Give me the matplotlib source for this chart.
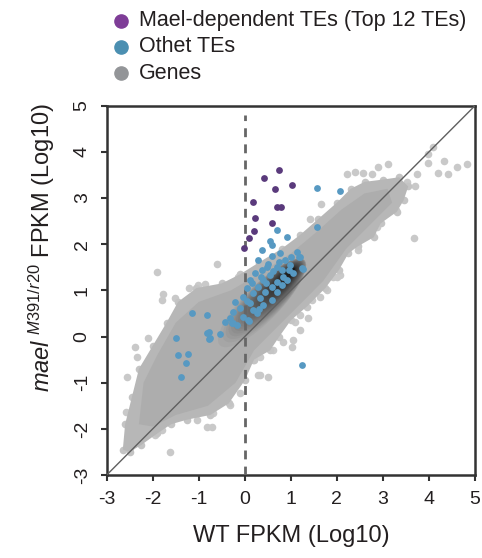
import matplotlib
matplotlib.use('Agg')
from matplotlib import pyplot as plt
from matplotlib.patches import Polygon, Ellipse
from matplotlib.lines import Line2D
import numpy as np

plt.rcParams['font.family'] = ['Liberation Sans', 'DejaVu Sans']
plt.rcParams['mathtext.fontset'] = 'custom'
plt.rcParams['mathtext.rm'] = 'Liberation Sans'
plt.rcParams['mathtext.it'] = 'Liberation Sans:italic'

# Data (log10 FPKM, WT vs mael)
maelX = [0.749, 0.423, 1.031, 0.649, 0.184, 0.705, 0.792, 0.221, 0.597, 0.199, 0.084, -0.011]
maelY = [3.607, 3.441, 3.289, 3.189, 2.914, 2.800, 2.800, 2.574, 2.459, 2.292, 2.141, 1.911]

otherX = [1.568, 2.067, 1.575, 0.691, 0.923, 0.546, 0.583, 0.365, 0.764, 1.126, 1.176, 0.293,
          0.583, 0.872, 0.981, 1.270, 0.474, 0.691, 0.800, 0.365, 0.221, 0.546, 0.836, 1.053,
          0.112, 0.402, 0.691, 0.908, 0.293, 0.583, 0.040, 0.184, 0.438, 0.691, -0.033, 0.329,
          0.583, -0.214, 0.112, 0.402, -0.105, 0.184, -0.250, -0.033, 0.257, -0.322, -0.431,
          -0.178, 0.076, -0.250, -0.829, -0.757, -0.539, 0.098, -1.147, -0.815, -1.495, -0.771,
          -0.785, -1.444, -1.241, -1.278, -1.393, -0.285, 1.249, 1.199, 1.236, 0.95, 0.75, 0.45,
          0.15, 0.35, 0.62, 0.80, 1.00, 0.05, 0.50, 0.30]
otherY = [3.211, 3.146, 2.379, 2.307, 2.163, 2.076, 1.983, 1.874, 1.802, 1.838, 1.730, 1.658,
          1.744, 1.658, 1.549, 1.455, 1.513, 1.513, 1.441, 1.441, 1.369, 1.333, 1.297, 1.369,
          1.224, 1.224, 1.188, 1.224, 1.080, 1.080, 1.044, 0.936, 0.972, 0.972, 0.863, 0.827,
          0.791, 0.755, 0.719, 0.683, 0.611, 0.575, 0.539, 0.430, 0.502, 0.394, 0.322,
          0.250, 0.358, 0.286, 0.069, -0.039, 0.048, 0.343, 0.503, 0.460, -0.026, 0.091,
          -0.060, -0.400, -0.379, -0.567, -0.870, 0.287, -0.611, 1.730, 1.478, 1.45, 1.62, 1.15,
          1.15, 1.30, 1.42, 1.12, 1.72, 0.78, 1.58, 0.60]

# Gene cloud: outline of the dense band
bandX = [-2.65, -2.6, -2.45, -2.3, -2.0, -1.7, -1.45, -1.05, -0.5, -0.1, 0.3, 0.8, 1.2, 1.6, 2.0,
         2.3, 2.6, 3.0, 3.35, 3.55, 3.45, 3.3, 2.95, 2.8, 2.45, 2.25, 2.05, 1.75, 1.35, 1.0, 0.75,
         0.55, 0.2, 0.0, -0.35, -0.75, -1.25, -1.6, -1.9, -2.25, -2.5]
bandY = [-2.45, -1.9, -1.3, -0.7, -0.2, 0.3, 0.75, 1.05, 1.15, 1.35, 1.6, 1.9, 2.2, 2.55, 2.9,
         3.2, 3.35, 3.4, 3.45, 3.25, 2.95, 2.7, 2.45, 2.15, 1.95, 1.8, 1.45, 1.05, 0.65, 0.35, 0.0,
         -0.3, -0.5, -0.95, -1.45, -1.7, -1.8, -1.9, -2.1, -2.35, -2.5]
innerX = [-2.3, -2.2, -1.9, -1.5, -1.0, -0.3, 0.3, 1.0, 1.6, 2.1, 2.6, 3.1, 3.2, 2.7, 2.2, 1.7,
          1.2, 0.6, 0.2, -0.2, -0.8, -1.5, -2.0]
innerY = [-1.9, -1.0, -0.4, 0.3, 0.75, 1.0, 1.35, 1.8, 2.3, 2.75, 3.1, 3.2, 2.9, 2.4, 1.9, 1.2,
          0.7, 0.1, -0.3, -1.0, -1.5, -1.7, -1.95]

# Gene outliers around the band
geneX = [4.095, 3.986, 4.327, 4.819, 4.602, 4.204, 4.421, 3.733, 3.986, 3.118, 2.900, 2.756,
         2.560, 2.394, 2.227, 3.516, 3.697, 1.648, 1.416, 3.284, 3.675, 2.864, 2.756, 2.502,
         2.466, 2.068, 1.923, 1.887, 2.068, 1.995, 1.777, 1.633, 1.452, 1.379, 1.198, 1.090,
         1.198, 1.053, 0.836, 1.017, 0.619, 0.329, 0.185, 0.329, 0.510, -0.033, -2.581, -2.386,
         -2.364, -1.951, -1.807, -1.626, -1.626, -2.494, -2.364, -0.720, -1.046, -0.684, -0.322,
         -0.105, -0.540, -1.915, -0.612, -1.770, -1.517, -1.807, -1.206, -1.010, -0.865, -0.902,
         -0.721, -1.191, -0.938, -0.141, -0.358, -2.567, -2.386, -2.349, -2.096, -2.494, 0.293,
         -0.829, -0.250]
geneY = [4.113, 3.954, 3.810, 3.730, 3.665, 3.535, 3.514, 3.521, 3.752, 3.730, 3.680, 3.521,
         3.550, 3.571, 3.514, 3.355, 3.261, 2.871, 2.539, 2.741, 2.142, 2.380, 2.235, 2.308,
         1.874, 1.333, 1.297, 2.705, 2.849, 1.296, 1.007, 0.863, 0.791, 0.394, 0.466, 0.321,
         0.141, -0.076, -0.112, -0.220, -0.292, -0.437, -0.509, -0.834, -0.870, -0.798, -1.642,
         -1.700, -1.989, -2.134, -2.025, -1.881, -2.495, -2.422, -2.278, -1.953, -1.808, -1.664,
         -1.484, -1.231, -1.375, 1.391, 1.571, 0.914, 0.828, 0.792, 1.044, 1.117, 1.138, 0.900,
         1.008, 0.792, 0.756, 1.297, 1.044, -0.870, -0.220, -0.437, -0.040, -2.242, -0.834,
         -1.953, 1.153]

# Darkest part of the cloud
CORE_CENTER = (1.05, 1.45)
CORE_TAIL = (0.35, 0.7)

TICKS = [-3, -2, -1, 0, 1, 2, 3, 4, 5]
legendLabels = ['Mael-dependent TEs (Top 12 TEs)', 'Othet TEs', 'Genes']
legendColors = ['#7e3d97', '#4b8fb1', '#939598']

TEXT = '#231f20'
W, H = 482, 558

fig = plt.figure(figsize = (W / 100, H / 100), dpi = 100)
ax = fig.add_axes([106.7 / W, 1 - 475 / H, 368.3 / W, 369.3 / H])

# gene cloud
ax.scatter(geneX, geneY, s = 30, color = '#c9c9c9', linewidths = 0, zorder = 1)
ax.scatter(bandX, bandY, s = 30, color = '#c4c4c4', linewidths = 0, zorder = 1)
band = Polygon(np.column_stack([bandX, bandY]), closed = True, facecolor = '#b7b7b7', edgecolor = 'none', zorder = 2)
ax.add_patch(band)
inner = Polygon(np.column_stack([innerX, innerY]), closed = True, facecolor = '#adadad', edgecolor = 'none', zorder = 2)
ax.add_patch(inner)
inner.set_clip_path(band)

nSteps = 45
for k in range(nSteps):
    f = k / (nSteps - 1)
    cx = CORE_TAIL[0] + (CORE_CENTER[0] - CORE_TAIL[0]) * f ** 0.6
    cy = CORE_TAIL[1] + (CORE_CENTER[1] - CORE_TAIL[1]) * f ** 0.6
    g = (1 - f) ** 1.5
    e = Ellipse((cx, cy), width = 2.4 * g + 0.12, height = 0.7 * g + 0.08, angle = 45,
                facecolor = 'black', edgecolor = 'none', alpha = 0.035, zorder = 2)
    ax.add_patch(e)
    e.set_clip_path(band)

# reference lines
ax.plot([-3, 5], [-3, 5], color = '#5f5f5f', linewidth = 1.0, zorder = 3)
ax.plot([0, 0], [-3, 4.8], color = '#666666', linewidth = 2.0, linestyle = (0, (3.2, 2.6)), zorder = 3)

# TEs
ax.scatter(otherX, otherY, s = 24, color = '#5799c2', linewidths = 0, zorder = 4)
ax.scatter(maelX, maelY, s = 24, color = '#5a3a7c', linewidths = 0, zorder = 5)

ax.set_xlim(-3, 5)
ax.set_ylim(-3, 5)
ax.set_xticks(TICKS)
ax.set_yticks(TICKS)
ax.set_xticklabels([str(t) for t in TICKS], fontsize = 14, color = TEXT)
ax.set_yticklabels([str(t) for t in TICKS], fontsize = 14, color = TEXT, rotation = 90, va = 'center')
ax.tick_params(direction = 'out', length = 4.5, width = 1.5, color = '#333333')
ax.tick_params(axis = 'x', pad = 7)
ax.tick_params(axis = 'y', pad = 7)
for s in ax.spines.values():
    s.set_color('#333333')
    s.set_linewidth(1.8)

ax.set_xlabel('WT FPKM (Log10)', fontsize = 17, color = TEXT, labelpad = 12)
ax.set_ylabel(r'$\mathit{mael}^{\ \mathit{M391/r20}}$ FPKM (Log10)', fontsize = 17, color = TEXT)
ax.yaxis.set_label_coords(-0.135, 0.615)

# legend
for i, (lab, col) in enumerate(zip(legendLabels, legendColors)):
    yy = 1 - (20.7 + 26.3 * i) / H
    fig.add_artist(Line2D([120.7 / W], [yy], marker = 'o', markersize = 9.5, color = col,
                          linestyle = '', transform = fig.transFigure))
    fig.text(139 / W, yy, lab, fontsize = 15.5, color = TEXT, va = 'center', ha = 'left')

fig.savefig('out.png', dpi = 100)
